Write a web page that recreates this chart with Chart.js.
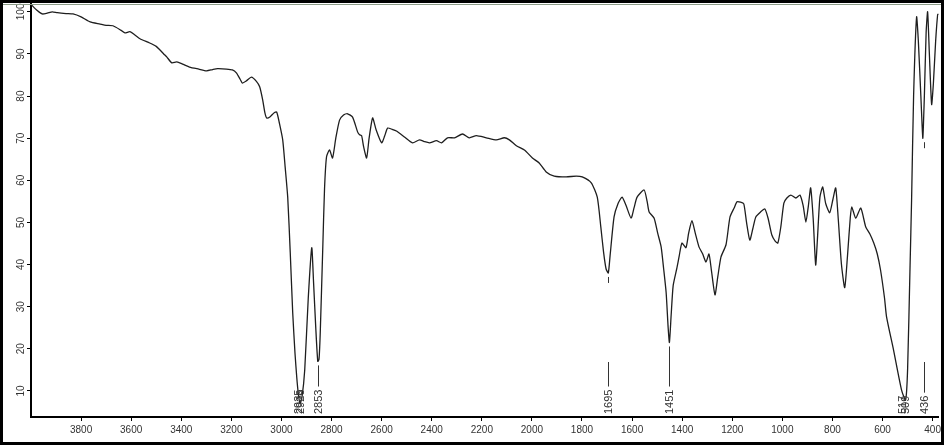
<!DOCTYPE html>
<html>
<head>
<meta charset="utf-8">
<script src="https://cdn.jsdelivr.net/npm/chart.js@4.4.1/dist/chart.umd.min.js"></script>
<style>
  body { margin: 0; background: #fff; }
  canvas { display: block; }
</style>
</head>
<body>
<canvas id="irChart" width="944" height="445"></canvas>
<script>
// IR spectrum, wavenumber (cm-1) vs transmittance (%)
const wavenumbers = [
  3999, 3975, 3955, 3935, 3915, 3895, 3860, 3832, 3800, 3764, 3724, 3700, 3673, 3640, 3625, 3605,
  3585, 3565, 3526, 3500, 3486, 3470, 3458, 3438, 3418, 3395, 3367, 3330, 3299, 3275, 3255, 3220,
  3196, 3180, 3165, 3156, 3140, 3120, 3100, 3087, 3075, 3066, 3059, 3045, 3030, 3019, 3008, 2995,
  2985, 2975, 2965, 2955, 2946, 2939, 2933, 2926, 2918, 2907, 2893, 2879, 2872, 2863, 2855, 2850,
  2845, 2835, 2828, 2820, 2808, 2796, 2783, 2768, 2752, 2736, 2716, 2696, 2688, 2680, 2672, 2660,
  2650, 2636, 2622, 2600, 2588, 2576, 2558, 2541, 2509, 2477, 2449, 2430, 2409, 2381, 2361, 2337,
  2309, 2277, 2250, 2222, 2182, 2142, 2110, 2090, 2062, 2030, 1998, 1971, 1943, 1911, 1863, 1823,
  1799, 1763, 1739, 1725, 1714, 1704, 1695, 1688, 1672, 1656, 1640, 1624, 1604, 1592, 1580, 1552,
  1540, 1532, 1512, 1498, 1484, 1474, 1464, 1456, 1451, 1444, 1436, 1421, 1412, 1401, 1385, 1374,
  1361, 1348, 1333, 1318, 1305, 1293, 1283, 1269, 1258, 1245, 1225, 1209, 1192, 1181, 1167, 1154,
  1143, 1130, 1118, 1106, 1087, 1070, 1057, 1042, 1028, 1018, 1006, 994, 982, 966, 946, 930,
  917, 906, 896, 887, 877, 867, 860, 850, 839, 827, 811, 798, 787, 777, 764, 751,
  740, 729, 723, 707, 687, 667, 651, 635, 621, 608, 592, 584, 556, 524, 508, 500,
  490, 484, 476, 464, 457, 447, 442, 439, 433, 426, 420, 413, 404, 397, 388, 380, 376
];
const transmittance = [
  101.7, 100.3, 99.5, 99.7, 100, 99.8, 99.6, 99.5, 98.8, 97.6, 97.1, 96.8, 96.7, 95.6, 95, 95.3,
  94.5, 93.6, 92.6, 91.8, 91, 90, 89.3, 87.9, 88.1, 87.6, 86.9, 86.4, 86, 86.3, 86.5, 86.4,
  86.2, 85.5, 84, 83.1, 83.6, 84.5, 83.5, 82.2, 79.1, 76, 74.8, 75.1, 76, 76.2, 73.5, 69.6,
  63, 56, 43, 28.5, 19, 13.3, 9.5, 7, 8.5, 15, 32, 44, 36, 25, 17, 17.5,
  24, 44, 58, 65.6, 67.2, 65.3, 70, 74.3, 75.5, 75.8, 75, 71.5, 70.8, 70.6, 68, 65.3,
  70, 74.8, 72, 68.9, 70.5, 72.4, 72.1, 71.7, 70.3, 68.9, 69.6, 69.2, 68.9, 69.4, 68.9, 70.1,
  70.1, 71, 70.1, 70.6, 70.1, 69.6, 70.1, 69.6, 68.2, 67.2, 65.3, 64.1, 62, 61, 60.8, 61,
  60.8, 59.4, 56, 49, 43, 39, 38, 42, 51.3, 54.5, 56, 54, 51, 53.5, 56, 57.7,
  55, 52.5, 51, 47.5, 44.2, 39, 33.3, 25, 21.5, 28, 35, 39.2, 42, 45.1, 44, 47.5,
  50.4, 47.5, 44.2, 42.5, 40.6, 42.5, 38.5, 32.8, 37, 41.8, 44.7, 51.3, 53.5, 54.9, 54.8, 54.4,
  50, 45.8, 48.5, 51.3, 52.5, 53.2, 51, 47, 45.5, 45.1, 49, 54.6, 55.8, 56.5, 55.8, 56.5,
  54, 50.1, 54, 58.2, 51, 39.9, 46, 56, 58.4, 54.5, 52.3, 55.5, 58.2, 51, 40, 34.5,
  42, 51, 53.7, 51, 53.4, 48.9, 47.3, 45.1, 42.5, 38.7, 32, 27.6, 19.7, 10.2, 7.8, 15,
  40, 55.4, 80, 98.8, 93, 80, 73, 70, 80, 95, 100, 90, 78, 83, 93, 99.3, 99.5
];
const xTicks = [3800, 3600, 3400, 3200, 3000, 2800, 2600, 2400, 2200, 2000, 1800, 1600, 1400, 1200, 1000, 800, 600, 400];
const yTicks = [10, 20, 30, 40, 50, 60, 70, 80, 90, 100];
// peak marks: position and the printed label
const peakPositions = [2935, 2926, 2853, 1695, 1451, 521, 509, 436];
const peakLabels = ['2935', '2926', '2853', '1695', '1451', '517', '509', '436'];

function lookupT(w) {
  let best = 0;
  wavenumbers.forEach((v, i) => {
    if (Math.abs(v - w) < Math.abs(wavenumbers[best] - w)) best = i;
  });
  return transmittance[best];
}

const decorPlugin = {
  id: 'decor',
  afterDraw(chart) {
    const ctx = chart.ctx;
    const xs = chart.scales.x;
    const ys = chart.scales.y;
    ctx.save();
    // rotated y tick labels
    ctx.fillStyle = '#333';
    ctx.font = '10px "Liberation Sans", Arial, sans-serif';
    ctx.textAlign = 'center';
    ctx.textBaseline = 'middle';
    yTicks.forEach(v => {
      const y = ys.getPixelForValue(v);
      ctx.save();
      ctx.translate(21, y);
      ctx.rotate(-Math.PI / 2);
      ctx.fillText(String(v), 0, 0);
      ctx.restore();
    });

    // peak labels
    ctx.font = '11px "Liberation Sans", Arial, sans-serif';
    ctx.strokeStyle = '#333';
    ctx.lineWidth = 1;
    const textBottom = 414;
    peakPositions.forEach((w, i) => {
      const x = Math.round(xs.getPixelForValue(w)) + 0.5;
      const label = peakLabels[i];
      const tw = ctx.measureText(label).width;
      const textTop = textBottom - tw;
      const yMin = ys.getPixelForValue(lookupT(w));
      ctx.save();
      ctx.translate(x, textBottom);
      ctx.rotate(-Math.PI / 2);
      ctx.textAlign = 'left';
      ctx.textBaseline = 'middle';
      ctx.fillText(label, 0, 0);
      ctx.restore();
      ctx.beginPath();
      if (yMin > 330) {
        // deep band: line runs straight from the minimum
        if (yMin + 4 < textTop - 3) {
          ctx.moveTo(x, yMin + 4);
          ctx.lineTo(x, textTop - 3);
        }
      } else {
        ctx.moveTo(x, yMin + 4);
        ctx.lineTo(x, yMin + 10);
        ctx.moveTo(x, 362);
        ctx.lineTo(x, textTop - 3);
      }
      ctx.stroke();
    });

    // outer frame
    ctx.strokeStyle = '#8c9c88';
    ctx.lineWidth = 1;
    ctx.beginPath();
    ctx.moveTo(3, 4.5);
    ctx.lineTo(941, 4.5);
    ctx.stroke();
    ctx.strokeStyle = '#000';
    ctx.lineWidth = 3;
    ctx.strokeRect(1.5, 1.5, 941, 442);
    ctx.restore();
  }
};

new Chart(document.getElementById('irChart'), {
  type: 'line',
  data: {
    datasets: [{
      data: wavenumbers.map((w, i) => ({ x: w, y: transmittance[i] })),
      borderColor: '#1e1e1e',
      borderWidth: 1.3,
      pointRadius: 0,
      tension: 0.2,
      fill: false
    }]
  },
  plugins: [decorPlugin],
  options: {
    responsive: false,
    animation: false,
    layout: { padding: { top: 3, right: 4, left: 0, bottom: 0 } },
    plugins: { legend: { display: false }, tooltip: { enabled: false } },
    scales: {
      x: {
        type: 'linear',
        reverse: true,
        min: 376,
        max: 4000,
        afterBuildTicks: scale => { scale.ticks = xTicks.map(v => ({ value: v })); },
        afterFit: scale => { scale.height = 28; },
        grid: { drawOnChartArea: false, drawTicks: true, tickLength: 4, color: '#000' },
        border: { display: true, color: '#000', width: 2 },
        ticks: {
          color: '#333',
          padding: 3,
          maxRotation: 0,
          autoSkip: false,
          callback: value => String(value),
          font: { family: '"Liberation Sans", Arial, sans-serif', size: 10 }
        }
      },
      y: {
        min: 3.8,
        max: 102.1,
        afterBuildTicks: scale => { scale.ticks = yTicks.map(v => ({ value: v })); },
        afterFit: scale => { scale.width = 31; },
        grid: { drawOnChartArea: false, drawTicks: true, tickLength: 4, color: '#000' },
        border: { display: true, color: '#000', width: 2 },
        ticks: { display: false }
      }
    }
  }
});
</script>
</body>
</html>
